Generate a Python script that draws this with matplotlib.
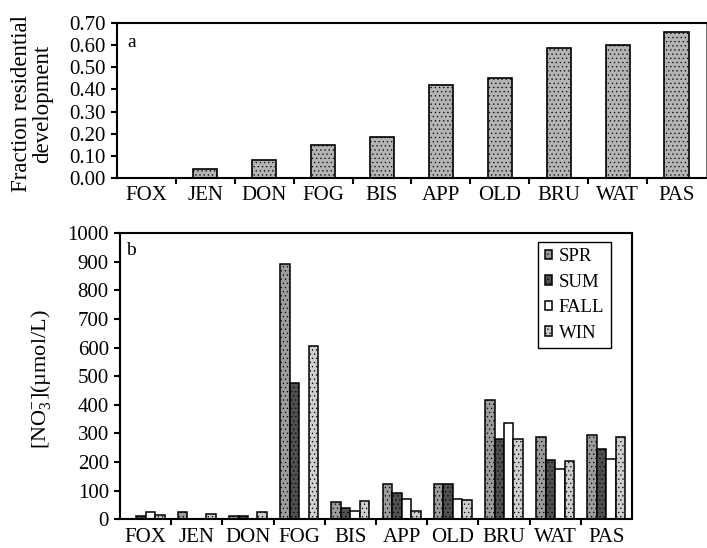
import numpy as np
import matplotlib
matplotlib.use("Agg")
import matplotlib.pyplot as plt

plt.rcParams["font.family"] = ["Liberation Serif", "DejaVu Serif"]
plt.rcParams["mathtext.fontset"] = "custom"
plt.rcParams["mathtext.rm"] = "Liberation Serif"
plt.rcParams["mathtext.it"] = "Liberation Serif:italic"
plt.rcParams["hatch.linewidth"] = 0.4

# %% data
sites = ["FOX", "JEN", "DON", "FOG", "BIS", "APP", "OLD", "BRU", "WAT", "PAS"]
frac_resid = [0.0, 0.04, 0.08, 0.15, 0.185, 0.42, 0.45, 0.585, 0.60, 0.66]

seasons = ["SPR", "SUM", "FALL", "WIN"]
no3_spr = [0, 27, 10, 890, 60, 122, 123, 415, 287, 293]
no3_sum = [10, 0, 13, 475, 40, 92, 125, 280, 208, 245]
no3_fall = [27, 0, 0, 0, 30, 72, 72, 337, 177, 212]
no3_win = [14, 18, 24, 605, 65, 30, 66, 282, 202, 287]

# %% figure
fig = plt.figure(figsize=(7.07, 5.48), dpi=100)
ax1 = fig.add_axes([0.1655, 0.6752, 0.833, 0.2828])
ax2 = fig.add_axes([0.1697, 0.0524, 0.7242, 0.5224])

x = np.arange(len(sites))

# panel a
ax1.bar(x, frac_resid, width=0.41, color="#b4b4b4", edgecolor="black",
        linewidth=1.2, hatch="....")
ax1.set_xlim(-0.5, len(sites) - 0.5)
ax1.set_ylim(0, 0.70)
ax1.set_yticks(np.arange(0, 0.71, 0.1))
ax1.set_yticklabels(["%.2f" % v for v in np.arange(0, 0.71, 0.1)])
ax1.set_ylabel("Fraction residential\ndevelopment", fontsize=16.5, linespacing=1.05)
ax1.yaxis.set_label_coords(-0.108, 0.48)
ax1.text(0.017, 0.93, "a", transform=ax1.transAxes, fontsize=14, va="top")

# panel b
w = 0.185
season_vals = [no3_spr, no3_sum, no3_fall, no3_win]
face = ["#9c9c9c", "#505050", "white", "#cfcfcf"]
hatches = ["....", "....", "", "...."]
for i in range(4):
    ax2.bar(x + (i - 1.5) * w, season_vals[i], width=w, color=face[i],
            edgecolor="black", linewidth=1.1, hatch=hatches[i], label=seasons[i])
ax2.set_xlim(-0.5, len(sites) - 0.5)
ax2.set_ylim(0, 1000)
ax2.set_yticks(np.arange(0, 1001, 100))
ax2.set_ylabel(r"[NO$_3^{-}$](µmol/L)", fontsize=16)
ax2.yaxis.set_label_coords(-0.131, 0.49)
ax2.text(0.012, 0.97, "b", transform=ax2.transAxes, fontsize=14, va="top")
leg = ax2.legend(loc="upper right", bbox_to_anchor=(0.959, 0.969), fontsize=13.5,
                 handlelength=0.4, handleheight=0.4, handletextpad=0.35,
                 labelspacing=0.45, borderpad=0.35, borderaxespad=0,
                 fancybox=False, framealpha=1)
leg.get_frame().set_edgecolor("black")
leg.get_frame().set_linewidth(1.0)

for ax in [ax1, ax2]:
    ax.set_xticks(x)
    ax.set_xticklabels(sites)
    ax.set_xticks(np.arange(0.5, len(sites) - 1, 1), minor=True)
    ax.tick_params(axis="x", which="major", length=0, labelsize=15, pad=6)
    ax.tick_params(axis="x", which="minor", length=4, width=1.5, direction="out")
    ax.tick_params(axis="y", length=4, width=1.5, direction="out", labelsize=15,
                   pad=4)
    for s in ax.spines.values():
        s.set_linewidth(1.5)
ax1.spines["right"].set_linewidth(0.4)

fig.savefig("out.png", dpi=100)
